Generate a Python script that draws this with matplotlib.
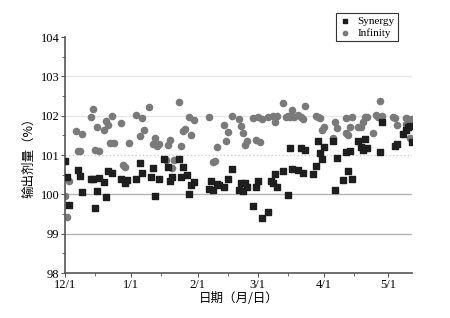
import numpy as np
import matplotlib.pyplot as plt
import matplotlib.dates as mdates

plt.rcParams['font.family'] = ['Liberation Serif', 'Noto Sans CJK SC', 'DejaVu Sans']

# 数据：距 12/1 的天数，输出剂量（%）
start = np.datetime64('2012-12-01')

syn_day = [0, 1, 2, 6, 7, 8, 12, 13, 14, 15, 16, 18, 19, 20, 22,
           26, 28, 29, 33, 35, 36, 40, 41, 42, 44, 46, 48, 49, 50,
           53, 54, 55, 57, 58, 59, 60, 67, 68, 69, 71, 72, 74, 76,
           78, 81, 82, 83, 84, 85, 88, 89, 90, 92, 95, 96, 97, 98, 99,
           102, 104, 105, 106, 109, 110, 111, 112, 116, 117, 118, 119,
           120, 121, 125, 126, 127, 130, 131, 132, 133, 134, 137, 138,
           139, 140, 141, 147, 148, 154, 155, 158, 159, 160, 161, 162]
syn_val = [100.85, 100.44, 99.73, 100.62, 100.47, 100.06, 100.39, 100.39,
           99.65, 100.08, 100.41, 100.31, 99.93, 100.59, 100.54,
           100.39, 100.29, 100.36, 100.39, 100.80, 100.54, 100.44, 100.67,
           99.95, 100.39, 100.90, 100.69, 100.34, 100.44,
           100.90, 100.44, 100.69, 100.49, 100.01, 100.24, 100.31, 100.14,
           100.34, 100.11, 100.26, 100.24, 100.19, 100.39,
           100.64, 100.11, 100.29, 100.08, 100.29, 100.19, 99.70, 100.19,
           100.34, 99.40, 99.55, 100.34, 100.29, 100.52, 100.19,
           100.59, 99.98, 101.18, 100.64, 100.62, 101.18, 100.54, 101.13,
           100.52, 100.72, 101.36, 101.05,
           100.90, 101.20, 101.36, 100.11, 100.92, 100.36, 101.08, 100.59,
           101.10, 100.39, 101.36, 101.20,
           101.13, 101.41, 101.18, 101.08, 101.84, 101.23, 101.28, 101.53,
           101.64, 101.71, 101.74, 101.33]

inf_day = [0, 1, 2, 5, 6, 7, 8, 12, 13, 14, 15, 16, 18, 19, 20, 21, 22,
           23, 26, 27, 28, 30, 33, 35, 36, 37, 39, 41, 42, 43, 44, 47,
           48, 49, 50, 51, 53, 54, 55, 56, 58, 59, 60, 67, 69, 70, 71,
           74, 75, 76, 78, 81, 82, 83, 84, 85, 88, 89, 90, 91, 92, 95,
           97, 98, 99, 102, 103, 104, 105, 106, 107, 109, 110, 111, 112,
           117, 118, 119, 120, 121, 125, 126, 127, 131, 131, 132, 133,
           134, 137, 138, 139, 140, 141, 144, 145, 146, 147, 148, 153,
           154, 155, 159, 159, 160, 161, 162]
inf_val = [99.96, 99.42, 100.34, 101.61, 101.10, 101.10, 101.53, 101.97,
           102.17, 101.13, 101.71, 101.10, 101.64, 101.86, 101.76, 101.30,
           101.99, 101.30, 101.81, 100.75, 100.69, 101.30, 102.02, 101.48,
           101.94, 101.64, 102.22, 101.28, 101.43, 101.23, 101.28, 100.87,
           101.25, 101.38, 100.67, 100.87, 102.35, 101.23, 101.61, 101.66,
           101.97, 101.51, 101.89, 101.97, 100.82, 100.85, 101.20,
           101.76, 101.36, 101.58, 101.99, 101.92, 101.74, 101.56, 101.25,
           101.36, 101.94, 101.38, 101.97, 101.33, 101.92, 101.97,
           101.99, 101.84, 101.99, 102.32, 101.97, 101.99, 101.97, 102.14,
           101.97, 102.02, 101.97, 101.92, 102.25,
           101.99, 101.97, 101.94, 101.64, 101.71, 101.43, 101.84, 101.69,
           101.94, 101.56, 101.51, 101.71,
           101.97, 101.71, 101.71, 101.84, 101.97, 101.97, 101.56, 102.02,
           101.97, 102.37, 101.99, 101.97,
           101.94, 101.76, 101.94, 101.79, 101.92, 101.43, 101.92]

syn_x = start + np.array(syn_day).astype('timedelta64[D]')
inf_x = start + np.array(inf_day).astype('timedelta64[D]')

fig = plt.figure(figsize=(4.5, 3.18), dpi=100)
ax = fig.add_axes([0.1444, 0.1415, 0.7712, 0.7421])

# 网格线
for yv, c, ls in [(99, '#b4b4b4', '-'), (100, '#b4b4b4', '-'),
                  (101, '#cfcfcf', ':'), (102, '#e8e8e8', '-'), (103, '#e8e8e8', '-')]:
    ax.axhline(yv, color=c, lw=1.0, ls=ls, zorder=0)

ax.scatter(syn_x, syn_val, marker='s', s=14, c='#1e1e1e', label='Synergy', zorder=3)
ax.scatter(inf_x, inf_val, marker='o', s=20, c='#7a7a7a', label='Infinity', zorder=2)

ax.set_ylim(98, 104)
ax.set_yticks(np.arange(98, 104.5, 1))
ax.set_yticks(np.arange(98.5, 104, 1), minor=True)
ax.set_xlim(start, start + np.timedelta64(162, 'D'))

ax.xaxis.set_major_locator(mdates.MonthLocator(bymonthday=1))
ax.xaxis.set_minor_locator(mdates.MonthLocator(bymonthday=15))
ax.xaxis.set_major_formatter(mdates.DateFormatter('%-m/%-d'))

for s in ['top', 'right']:
    ax.spines[s].set_visible(False)
for s in ['left', 'bottom']:
    ax.spines[s].set_color('#555555')
    ax.spines[s].set_linewidth(1.2)

ax.tick_params(axis='both', which='major', direction='out', length=3, width=0.8,
               color='#555555', labelsize=9, pad=1)
ax.tick_params(axis='both', which='minor', direction='out', length=2, width=0.6,
               color='#555555')

ax.set_ylabel('输出剂量（%）', fontsize=9, family=['Noto Sans CJK SC'], labelpad=4)
ax.set_xlabel('日期（月/日）', fontsize=9, family=['Noto Sans CJK SC'], labelpad=1)

leg = ax.legend(loc='upper right', bbox_to_anchor=(0.975, 1.125), fontsize=8,
                frameon=True, fancybox=False, handletextpad=0.6, borderpad=0.3,
                labelspacing=0.15, handlelength=1.0, markerscale=0.7)
leg.get_frame().set_edgecolor('black')
leg.get_frame().set_linewidth(0.8)

plt.savefig('out.png', dpi=100)
